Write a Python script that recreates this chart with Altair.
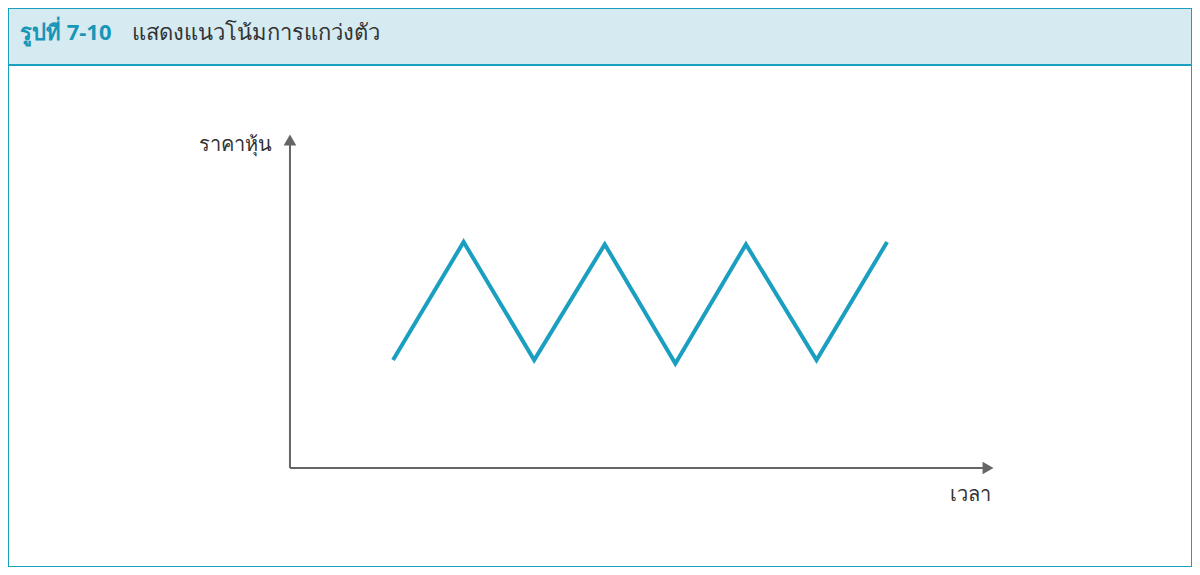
import altair as alt
import pandas as pd

# zigzag: time step vs price level
time = [0, 1, 2, 3, 4, 5, 6, 7]
price = [1.0, 2.0, 1.0, 1.98, 0.97, 1.98, 1.0, 2.0]

x_label = "เวลา"
y_label = "ราคาหุ้น"
title_bold = "รูปที่ 7-10"
title_rest = "แสดงแนวโน้มการแกว่งตัว"

teal = "#1a9fc0"
axis_grey = "#666666"
W, H = 1184, 559

xs = alt.Scale(domain=[-5.455, 11.32], nice=False, zero=False)
ys = alt.Scale(domain=[-0.754, 3.983], nice=False, zero=False)
noax = None

line_df = pd.DataFrame({"t": time, "p": price})
origin_t, end_t = -1.46, 8.43
origin_p, top_p = 0.085, 2.864

axes_df = pd.DataFrame({
    "t": [origin_t, origin_t], "p": [origin_p, origin_p],
    "t2": [end_t, origin_t], "p2": [origin_p, top_p],
})
arrows_df = pd.DataFrame({
    "t": [end_t, origin_t], "p": [origin_p, top_p],
    "shape": ["triangle-right", "triangle-up"],
})

header = alt.Chart(pd.DataFrame({"a": [0]})).mark_rect(
    fill="#d5eaf1", stroke=teal, strokeWidth=2
).encode(x=alt.value(0), x2=alt.value(W), y=alt.value(0), y2=alt.value(57))

t1 = alt.Chart(pd.DataFrame({"s": [title_bold]})).mark_text(
    align="left", baseline="middle", fontSize=22, fontWeight="bold", color="#1796b8", font="Noto Sans"
).encode(x=alt.value(12), y=alt.value(25), text="s:N")
t2 = alt.Chart(pd.DataFrame({"s": [title_rest]})).mark_text(
    align="left", baseline="middle", fontSize=22, color="#333333", font="Noto Sans"
).encode(x=alt.value(124), y=alt.value(25), text="s:N")

axes = alt.Chart(axes_df).mark_rule(color=axis_grey, strokeWidth=2).encode(
    x=alt.X("t:Q", scale=xs, axis=noax), x2="t2:Q",
    y=alt.Y("p:Q", scale=ys, axis=noax), y2="p2:Q")
arrows = alt.Chart(arrows_df).mark_point(filled=True, color=axis_grey, size=160, opacity=1).encode(
    x=alt.X("t:Q", scale=xs, axis=noax), y=alt.Y("p:Q", scale=ys, axis=noax),
    shape=alt.Shape("shape:N", scale=None))

zig = alt.Chart(line_df).mark_line(color=teal, strokeWidth=4).encode(
    x=alt.X("t:Q", scale=xs, axis=noax), y=alt.Y("p:Q", scale=ys, axis=noax))

ylab = alt.Chart(pd.DataFrame({"s": [y_label]})).mark_text(
    align="right", baseline="middle", fontSize=20, color="#333333", font="Noto Sans"
).encode(x=alt.value(264), y=alt.value(137), text="s:N")
xlab = alt.Chart(pd.DataFrame({"s": [x_label]})).mark_text(
    align="center", baseline="middle", fontSize=20, color="#333333", font="Noto Sans"
).encode(x=alt.value(962), y=alt.value(487), text="s:N")

chart = alt.layer(header, t1, t2, axes, arrows, zig, ylab, xlab).properties(
    width=W, height=H, padding=0, autosize=alt.AutoSizeParams(type="none")
).configure_view(stroke=teal, strokeWidth=2, fill="white")

chart.save("out.html", embed_options={"renderer": "svg", "actions": False})
